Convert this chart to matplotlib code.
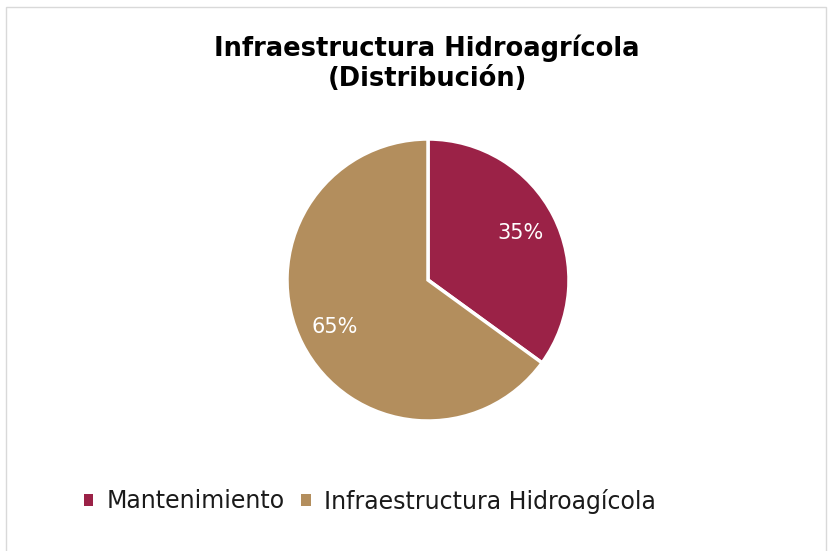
import matplotlib.pyplot as plt
from matplotlib.patches import Rectangle

# Data
labels = ["Mantenimiento", "Infraestructura Hidroagícola"]
values = [35, 65]
colors = ["#9B2247", "#B38E5D"]

W, H = 833, 551
fig = plt.figure(figsize=(W / 100, H / 100), dpi=100)

# pie geometry in pixels
cx, cy, r = 428, 280, 141
pad = 1.05
side = 2 * r * pad
ax = fig.add_axes([(cx - r * pad) / W, (H - cy - r * pad) / H, side / W, side / H])

wedges, texts, autotexts = ax.pie(
    values,
    colors=colors,
    startangle=90,
    counterclock=False,
    autopct="%1.0f%%",
    pctdistance=0.74,
    wedgeprops=dict(edgecolor="white", linewidth=2.5),
    textprops=dict(color="white", fontsize=15, family="DejaVu Sans"),
)
ax.set_xlim(-pad, pad)
ax.set_ylim(-pad, pad)
ax.set_aspect("equal")

fig.text(427 / W, (H - 63) / H, "Infraestructura Hidroagrícola\n(Distribución)",
         ha="center", va="center", fontsize=18.5, weight="bold",
         family="DejaVu Sans", linespacing=1.2, color="black")

leg = fig.legend(
    wedges, labels,
    loc="center left",
    bbox_to_anchor=(84 / W, (H - 501) / H),
    ncol=2,
    frameon=False,
    fontsize=17,
    handlelength=0.4,
    handleheight=0.4,
    handletextpad=0.55,
    columnspacing=0.7,
    borderaxespad=0,
    borderpad=0,
)
for t in leg.get_texts():
    t.set_color("#1a1a1a")
for h in leg.legend_handles:
    h.set_edgecolor("none")

# outer chart frame
fig.add_artist(Rectangle((6 / W, -0.02), (826 - 6) / W, (H - 7) / H + 0.02,
                         transform=fig.transFigure, fill=False,
                         edgecolor="#D9D9D9", linewidth=1))

fig.savefig("out.png", dpi=100, facecolor="white")
